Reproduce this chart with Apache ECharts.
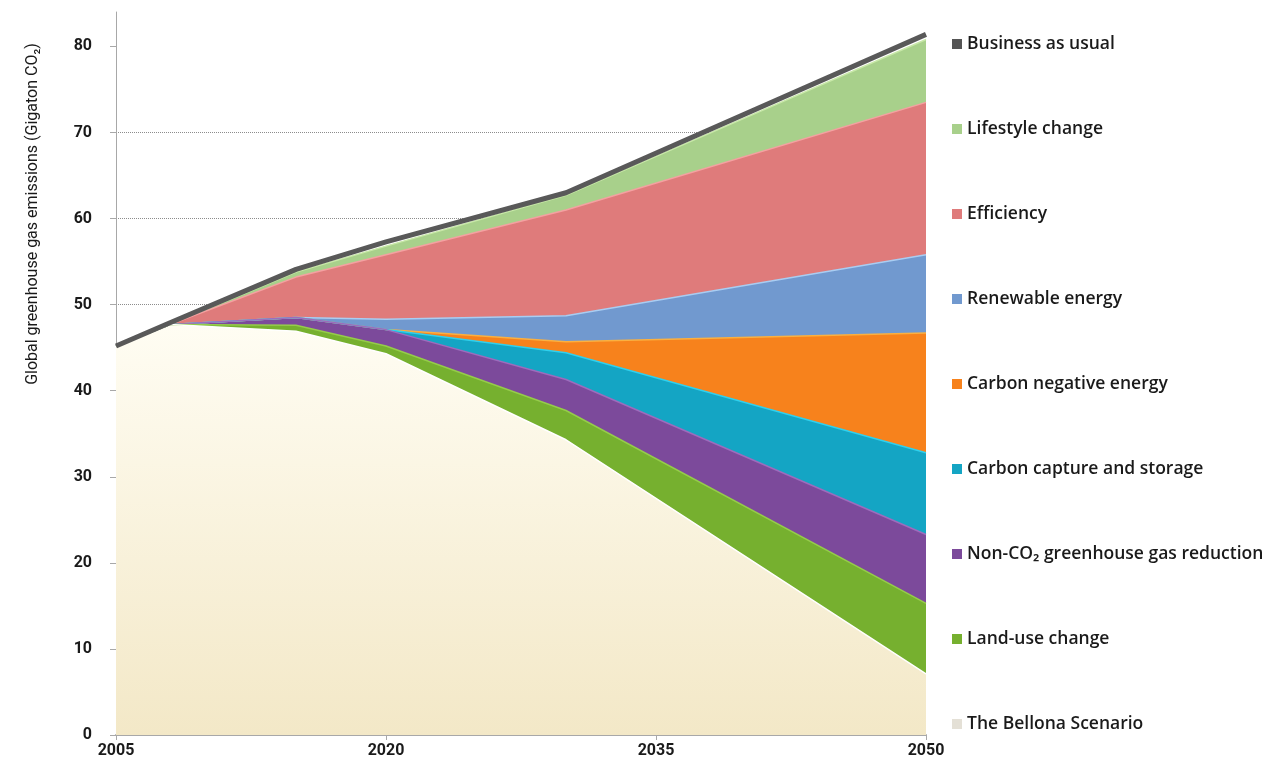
<!DOCTYPE html>
<html>
<head>
<meta charset="utf-8">
<script src="https://cdn.jsdelivr.net/npm/echarts@6/dist/echarts.min.js"></script>
<style>
  html, body { margin: 0; padding: 0; background: #fff; }
  #main { width: 1265px; height: 766px; }
</style>
</head>
<body>
<div id="main"></div>
<script>
// years where the scenario curves bend
var years = [2005, 2008, 2015, 2020, 2030, 2050];
var yTicks = [0, 10, 20, 30, 40, 50, 60, 70, 80];

// wedges, bottom to top (Gigaton CO2)
var bellona    = [45.2, 47.7, 46.9, 44.3, 34.3, 7.1];
var landUse    = [0, 0, 0.7, 0.9, 3.4, 8.2];
var nonCO2     = [0, 0, 0.9, 1.9, 3.6, 8.0];
var ccs        = [0, 0, 0, 0, 3.1, 9.5];
var carbonNeg  = [0, 0, 0, 0, 1.3, 13.9];
var renewable  = [0, 0, 0, 1.2, 3.0, 9.1];
var efficiency = [0, 0, 4.7, 7.5, 12.3, 17.7];
var lifestyle  = [0, 0, 0.6, 1.0, 1.7, 7.3];
var bau        = [45.2, 47.9, 54.1, 57.3, 63.0, 81.4];

var names = {
  bau: "Business as usual",
  lifestyle: "Lifestyle change",
  efficiency: "Efficiency",
  renewable: "Renewable energy",
  carbonNeg: "Carbon negative energy",
  ccs: "Carbon capture and storage",
  nonCO2: "Non-CO\u2082 greenhouse gas reduction",
  landUse: "Land-use change",
  bellona: "The Bellona Scenario"
};

var baseYear = years[0];

// bottom-to-top layers; each area is filled from 0 up to its running total,
// upper layers are drawn first so the lower ones sit on top of them
var layers = [
  { name: names.bellona, vals: bellona, color: "#e4e0d6", edge: "#ffffff",
    area: { type: "linear", x: 0, y: 0, x2: 0, y2: 1,
            colorStops: [{ offset: 0, color: "#fffdf3" }, { offset: 1, color: "#f3e8c7" }] } },
  { name: names.landUse, vals: landUse, color: "#76b02f", edge: "#95cc4a" },
  { name: names.nonCO2, vals: nonCO2, color: "#7c4a9b", edge: "#9d6cbd" },
  { name: names.ccs, vals: ccs, color: "#14a5c4", edge: "#2fd0ee" },
  { name: names.carbonNeg, vals: carbonNeg, color: "#f7821c", edge: "#fbb040" },
  { name: names.renewable, vals: renewable, color: "#7199cf", edge: "#a9cdf2" },
  { name: names.efficiency, vals: efficiency, color: "#df7b7b", edge: "#f4a1a1" },
  { name: names.lifestyle, vals: lifestyle, color: "#a8d08b", edge: "#c8e8a8" }
];

var running = years.map(function () { return 0; });
var areaSeries = layers.map(function (l) {
  running = running.map(function (r, i) { return r + l.vals[i]; });
  var top = running.slice();
  return {
    name: l.name,
    type: "line",
    data: top.map(function (v, i) { return [years[i] - baseYear, +v.toFixed(2)]; }),
    showSymbol: false,
    symbol: "none",
    lineStyle: { width: 1.5, color: l.edge },
    itemStyle: { color: l.color },
    areaStyle: { color: l.area || l.color, opacity: 1 }
  };
}).reverse();

var font = "Roboto, 'DejaVu Sans', sans-serif";
var legendFont = "'Open Sans', Roboto, sans-serif";

var myChart = echarts.init(document.getElementById("main"), null, { renderer: "canvas" });
var option = {
  animation: false,
  grid: { left: 116, right: 339, top: 12, bottom: 31 },
  xAxis: {
    type: "value",
    min: 0,
    max: 45,
    interval: 15,
    axisLine: { show: true, lineStyle: { color: "#a8a8a8", width: 2 } },
    axisTick: { show: true, length: 5, lineStyle: { color: "#a8a8a8" } },
    splitLine: { show: false },
    axisLabel: {
      margin: 8,
      fontFamily: font,
      fontSize: 16,
      fontWeight: "bold",
      color: "#1a1a1a",
      formatter: function (v) { return String(v + baseYear); }
    }
  },
  yAxis: {
    type: "value",
    min: 0,
    max: 84,
    interval: 10,
    axisLine: { show: true, lineStyle: { color: "#a8a8a8", width: 1 } },
    axisTick: { show: true, length: 6, lineStyle: { color: "#a8a8a8" }, customValues: yTicks },
    splitLine: { show: true, showMaxLine: false, lineStyle: { color: "#8c8c8c", type: "dotted", width: 1 } },
    axisLabel: {
      margin: 24,
      customValues: yTicks,
      fontFamily: font,
      fontSize: 16,
      fontWeight: "bold",
      color: "#1a1a1a"
    }
  },
  legend: {
    orient: "vertical",
    left: 947,
    top: 30,
    itemGap: 67,
    itemWidth: 10,
    itemHeight: 10,
    icon: "rect",
    selectedMode: false,
    textStyle: { fontFamily: legendFont, fontSize: 17.5, fontWeight: 600, color: "#1a1a1a" },
    data: [names.bau, names.lifestyle, names.efficiency, names.renewable, names.carbonNeg,
           names.ccs, names.nonCO2, names.landUse, names.bellona]
  },
  graphic: [{
    type: "text",
    x: 33,
    y: 214,
    rotation: Math.PI / 2,
    style: {
      text: "Global greenhouse gas emissions (Gigaton CO\u2082)",
      fontFamily: font,
      fontSize: 16,
      fill: "#1a1a1a",
      textAlign: "center",
      textVerticalAlign: "middle"
    }
  }],
  series: areaSeries.concat([{
    name: names.bau,
    type: "line",
    data: bau.map(function (v, i) { return [years[i] - baseYear, v]; }),
    showSymbol: false,
    symbol: "none",
    itemStyle: { color: "#555555" },
    lineStyle: { color: "#595959", width: 5 },
    z: 5
  }])
};
myChart.setOption(option);
</script>
</body>
</html>
